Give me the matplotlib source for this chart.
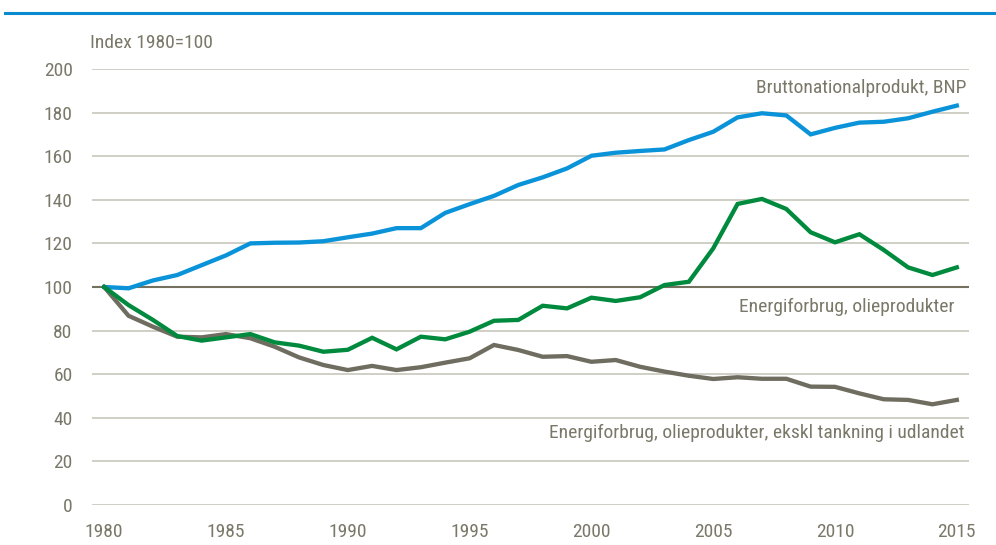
import numpy as np
import matplotlib.pyplot as plt
from matplotlib.lines import Line2D

plt.rcParams['font.family'] = ['Roboto Condensed', 'Archivo Narrow', 'DejaVu Sans']

YEARS = list(range(1980, 2016))

BNP = [100, 99.4, 103, 105.5, 110, 114.5, 120, 120.3, 120.4, 121, 122.8, 124.5,
       127, 127, 134, 138, 141.8, 146.8, 150.3, 154.4, 160.2, 161.6, 162.4, 163.1,
       167.4, 171.2, 177.8, 179.7, 178.7, 170, 173, 175.4, 175.8, 177.4, 180.4, 183.2]

OLIE = [100, 91.7, 84.9, 77.5, 75.4, 76.9, 78.4, 74.6, 73.1, 70.3, 71.2, 76.7,
        71.4, 77.2, 76, 79.5, 84.5, 84.9, 91.4, 90.2, 95.1, 93.6, 95.3, 100.9,
        102.4, 117.7, 138.1, 140.4, 135.8, 125.1, 120.5, 124.2, 117, 109, 105.5, 109]

OLIE_EKSKL = [100, 86.8, 81.8, 77.2, 76.9, 78.4, 76.5, 72.6, 67.7, 64.2, 61.9, 63.8,
              61.9, 63.2, 65.3, 67.3, 73.4, 71.1, 68, 68.3, 65.7, 66.5, 63.4, 61.2,
              59.3, 57.8, 58.6, 57.9, 57.9, 54.3, 54.2, 51.2, 48.5, 48.2, 46.2, 48.2]

Y_TICKS = list(range(0, 201, 20))
X_TICKS = [1980, 1985, 1990, 1995, 2000, 2005, 2010, 2015]

TXT = '#7a7868'
FS = 14

fig = plt.figure(figsize=(9.96, 5.45), dpi=100)
ax = fig.add_axes([92/996, 1-505/545, (969-92)/996, (505-69)/545])

for y in Y_TICKS:
    if y == 100:
        ax.axhline(y, color='#75715f', lw=1.5, zorder=1)
    else:
        ax.axhline(y, color='#cdcbc2', lw=1.3, zorder=1)

ax.plot(YEARS, BNP, color='#0a93d8', lw=3.1, zorder=3, solid_joinstyle='miter')
ax.plot(YEARS, OLIE_EKSKL, color='#6f6c60', lw=3.1, zorder=3, solid_joinstyle='miter')
ax.plot(YEARS, OLIE, color='#008a3e', lw=3.1, zorder=4, solid_joinstyle='miter')

ax.set_xlim(1979.5, 2015.5)
ax.set_ylim(0, 200)
ax.set_yticks(Y_TICKS)
ax.set_xticks(X_TICKS)
for s in ax.spines.values():
    s.set_visible(False)
ax.tick_params(length=0, labelsize=FS, labelcolor=TXT)
ax.tick_params(axis='y', pad=14)
ax.tick_params(axis='x', pad=13)

ax.text(2015.4, 191.5, 'Bruttonationalprodukt, BNP', ha='right', va='center',
        fontsize=FS, color=TXT)
ax.text(2014.9, 91, 'Energiforbrug, olieprodukter', ha='right', va='center',
        fontsize=FS, color=TXT)
ax.text(2015.3, 33, 'Energiforbrug, olieprodukter, ekskl tankning i udlandet',
        ha='right', va='center', fontsize=FS, color=TXT)
fig.text(90/996, 1-43/545, 'Index 1980=100', ha='left', va='center',
         fontsize=FS, color=TXT)

fig.add_artist(Line2D([5/996, 1], [1-13/545, 1-13/545], color='#0a8bd0', lw=2.2))

fig.savefig('out.png', dpi=100)
